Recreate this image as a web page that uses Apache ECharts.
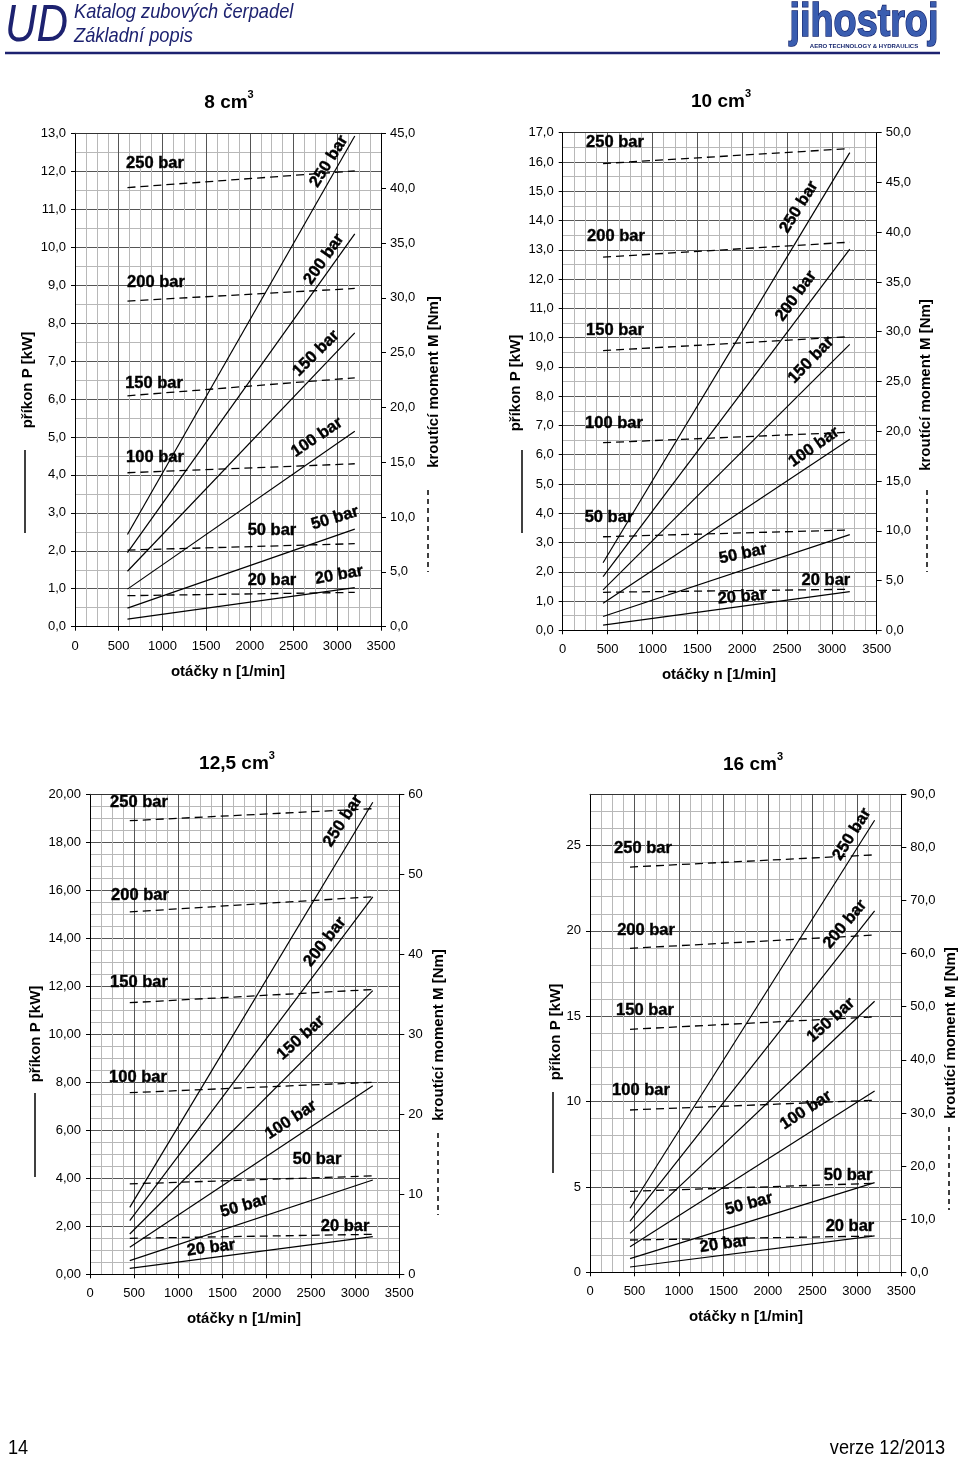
<!DOCTYPE html>
<html><head><meta charset="utf-8">
<script src="https://cdn.jsdelivr.net/npm/echarts@6/dist/echarts.min.js"></script>
<style>html,body{margin:0;padding:0;background:#fff}#c{width:960px;height:1457px}</style>
</head><body><div id="c"></div>
<script>
// ---------------- DATA ----------------
const pressures = ['20 bar', '50 bar', '100 bar', '150 bar', '200 bar', '250 bar'];
const xTicks = [0, 3500, 500];

// 8 cm3
const speed8 = [600, 3200];
const power8 = [[0.20, 1.03], [0.49, 2.57], [0.99, 5.15], [1.46, 7.74], [1.95, 10.35], [2.43, 12.93]];
const torque8 = [[2.83, 3.13], [6.99, 7.57], [14.04, 14.86], [21.06, 22.7], [29.7, 30.85], [40.05, 41.57]];
const labels8 = [
  ['250 bar', 915, 12.2, 0], ['200 bar', 926, 9.07, 0], ['150 bar', 904, 6.41, 0], ['100 bar', 915, 4.47, 0],
  ['50 bar', 2253, 2.54, 0], ['20 bar', 2253, 1.23, 0],
  ['250 bar', 2905, 12.26, 58], ['200 bar', 2848, 9.68, 55], ['150 bar', 2757, 7.2, 45], ['100 bar', 2768, 4.99, 34],
  ['50 bar', 2974, 2.86, 17], ['20 bar', 3020, 1.36, 10]
];

// 10 cm3
const speed10 = [450, 3200];
const power10 = [[0.18, 1.32], [0.47, 3.27], [0.92, 6.53], [1.38, 9.77], [1.83, 13.02], [2.31, 16.32]];
const torque10 = [[3.82, 4.12], [9.4, 10.08], [18.85, 19.9], [28.1, 29.5], [37.5, 39.0], [46.9, 48.4]];
const labels10 = [
  ['250 bar', 583, 16.65, 0], ['200 bar', 594, 13.44, 0], ['150 bar', 583, 10.23, 0], ['100 bar', 572, 7.08, 0],
  ['50 bar', 516, 3.87, 0], ['20 bar', 2934, 1.72, 0],
  ['250 bar', 2634, 14.46, 58], ['200 bar', 2601, 11.42, 54], ['150 bar', 2768, 9.23, 46], ['100 bar', 2801, 6.26, 35],
  ['50 bar', 2010, 2.61, 12], ['20 bar', 1998, 1.14, 5]
];

// 12,5 cm3
const speed125 = [450, 3200];
const power125 = [[0.25, 1.57], [0.57, 3.93], [1.13, 7.86], [1.68, 11.82], [2.24, 15.73], [2.79, 19.67]];
const torque125 = [[4.5, 5.0], [11.3, 12.3], [22.7, 24.0], [33.95, 35.6], [45.3, 47.2], [56.7, 58.2]];
const labels125 = [
  ['250 bar', 554, 19.68, 0], ['200 bar', 566, 15.8, 0], ['150 bar', 554, 12.18, 0], ['100 bar', 543, 8.22, 0],
  ['50 bar', 2569, 4.8, 0], ['20 bar', 2886, 2.01, 0],
  ['250 bar', 2863, 18.89, 57], ['200 bar', 2659, 13.85, 52], ['150 bar', 2388, 9.85, 42], ['100 bar', 2275, 6.43, 33],
  ['50 bar', 1743, 2.85, 16], ['20 bar', 1369, 1.10, 7]
];

// 16 cm3
const speed16 = [450, 3200];
const power16 = [[0.31, 2.13], [0.8, 5.25], [1.5, 10.62], [2.28, 15.88], [3.0, 21.17], [3.75, 26.48]];
const torque16 = [[6.08, 6.83], [15.25, 16.76], [30.56, 32.4], [45.75, 48.1], [61.0, 63.5], [76.3, 78.6]];
const labels16 = [
  ['250 bar', 596, 24.84, 0], ['200 bar', 630, 20.04, 0], ['150 bar', 618, 15.36, 0], ['100 bar', 573, 10.67, 0],
  ['50 bar', 2901, 5.7, 0], ['20 bar', 2923, 2.71, 0],
  ['250 bar', 2946, 25.66, 58], ['200 bar', 2867, 20.39, 50], ['150 bar', 2710, 14.77, 42], ['100 bar', 2428, 9.5, 33],
  ['50 bar', 1788, 4.0, 15], ['20 bar', 1507, 1.65, 8]
];

// axis scales: [max, major interval, minor interval, decimals]
const powerAxis8 = [13, 1, 0.5, 1],  torqueAxis8 = [45, 5, 1];
const powerAxis10 = [17, 1, 0.5, 1], torqueAxis10 = [50, 5, 1];
const powerAxis125 = [20, 2, 0.5, 2], torqueAxis125 = [60, 10, 0];
const powerAxis16 = [28, 5, 1, 0],   torqueAxis16 = [90, 10, 1];

const titles = ['8', '10', '12,5', '16'];
const xName = 'otáčky n [1/min]';
const pName = 'příkon P [kW]';
const mName = 'kroutící moment M [Nm]';

// ---------------- LAYOUT ----------------
const FONT = "'Liberation Sans', Arial, Helvetica, sans-serif";

const charts = [
  { speed: speed8, power: power8, torque: torque8, labels: labels8, pa: powerAxis8, ma: torqueAxis8,
    box: [75, 133.3, 306, 493.4], title: [229, 103], pN: [28, 380], pL: [25, 450, 533], mN: [434, 382], mL: [428, 490, 572], xN: [228, 672] },
  { speed: speed10, power: power10, torque: torque10, labels: labels10, pa: powerAxis10, ma: torqueAxis10,
    box: [562.7, 132.7, 314, 497.6], title: [721, 102], pN: [516, 383], pL: [522, 450, 533], mN: [926, 385], mL: [927, 490, 572], xN: [719, 675] },
  { speed: speed125, power: power125, torque: torque125, labels: labels125, pa: powerAxis125, ma: torqueAxis125,
    box: [90, 794.3, 309.3, 480], title: [237, 764], pN: [36, 1034], pL: [35, 1093, 1177], mN: [439, 1035], mL: [438, 1133, 1215], xN: [244, 1319] },
  { speed: speed16, power: power16, torque: torque16, labels: labels16, pa: powerAxis16, ma: torqueAxis16,
    box: [590, 794.3, 311.3, 478], title: [753, 765], pN: [556, 1032], pL: [553, 1092, 1173], mN: [951, 1033], mL: [949, 1127, 1210], xN: [746, 1317] }
];

function fmt(v, d) { return Number(v).toFixed(d).replace('.', ','); }

const MAJOR = '#555';
const MINOR = '#b8b8b8';

const option = { animation: false, backgroundColor: '#fff', grid: [], xAxis: [], yAxis: [], series: [], graphic: [] };

charts.forEach((c, i) => {
  option.grid.push({ left: c.box[0], top: c.box[1], width: c.box[2], height: c.box[3], containLabel: false });
  const xi = option.xAxis.length;
  option.xAxis.push({
    type: 'value', gridIndex: i, min: xTicks[0], max: xTicks[1], interval: xTicks[2], position: 'bottom',
    axisLine: { show: true, onZero: false, lineStyle: { color: '#000', width: 1 } },
    axisTick: { show: true, length: 4, lineStyle: { color: '#000' } },
    axisLabel: { margin: 13, fontSize: 13, color: '#000', fontFamily: FONT, formatter: v => String(v) },
    splitLine: { show: true, lineStyle: { color: MAJOR, width: 1 } },
    minorTick: { show: false, splitNumber: 4 },
    minorSplitLine: { show: true, lineStyle: { color: MINOR, width: 1 } }
  });
  option.xAxis.push({
    type: 'value', gridIndex: i, min: xTicks[0], max: xTicks[1], position: 'top',
    axisLine: { show: true, onZero: false, lineStyle: { color: '#333', width: 1 } },
    axisTick: { show: false }, axisLabel: { show: false }, splitLine: { show: false }
  });
  const yi = option.yAxis.length;
  // minor horizontal grid
  option.yAxis.push({
    type: 'value', gridIndex: i, min: 0, max: c.pa[0], interval: c.pa[2], position: 'left',
    axisLine: { show: false }, axisTick: { show: false }, axisLabel: { show: false },
    splitLine: { show: true, lineStyle: { color: MINOR, width: 1 } }
  });
  // power axis
  option.yAxis.push({
    type: 'value', gridIndex: i, min: 0, max: c.pa[0], interval: c.pa[1], position: 'left',
    axisLine: { show: true, onZero: false, lineStyle: { color: '#000', width: 1 } },
    axisTick: { show: true, length: 4, lineStyle: { color: '#000' } },
    axisLabel: { margin: 9, fontSize: 13, color: '#000', fontFamily: FONT,
      showMaxLabel: c.pa[0] % c.pa[1] === 0, formatter: v => fmt(v, c.pa[3]) },
    splitLine: { show: true, lineStyle: { color: MAJOR, width: 1 } }
  });
  // torque axis
  option.yAxis.push({
    type: 'value', gridIndex: i, min: 0, max: c.ma[0], interval: c.ma[1], position: 'right',
    axisLine: { show: true, onZero: false, lineStyle: { color: '#000', width: 1 } },
    axisTick: { show: true, length: 5, lineStyle: { color: '#000' } },
    axisLabel: { margin: 9, fontSize: 13, color: '#000', fontFamily: FONT, formatter: v => fmt(v, c.ma[2]) },
    splitLine: { show: false }
  });

  pressures.forEach((p, k) => {
    option.series.push({
      type: 'line', name: p + ' P', xAxisIndex: xi, yAxisIndex: yi + 1, symbol: 'none', silent: true, z: 3,
      lineStyle: { color: '#000', width: 1.2 },
      data: [[c.speed[0], c.power[k][0]], [c.speed[1], c.power[k][1]]]
    });
    option.series.push({
      type: 'line', name: p + ' M', xAxisIndex: xi, yAxisIndex: yi + 2, symbol: 'none', silent: true, z: 3,
      lineStyle: { color: '#000', width: 1.3, type: [8, 5] },
      data: [[c.speed[0], c.torque[k][0]], [c.speed[1], c.torque[k][1]]]
    });
  });

  option.series.push({
    type: 'scatter', xAxisIndex: xi, yAxisIndex: yi + 1, symbolSize: 1, silent: true, z: 5,
    itemStyle: { color: 'transparent', opacity: 1 },
    label: { show: true, position: 'inside', fontSize: 16.5, fontWeight: 'bold', color: '#000', opacity: 1,
      textBorderColor: '#000', textBorderWidth: 0.4, fontFamily: FONT },
    data: c.labels.map(l => ({ value: [l[1], l[2]], label: { formatter: l[0], rotate: l[3] } }))
  });

  // title
  option.graphic.push({
    type: 'text', x: c.title[0], y: c.title[1], silent: true,
    style: { text: '{m|' + titles[i] + ' cm}{s|3}', align: 'center', verticalAlign: 'middle',
      rich: { m: { fontSize: 19, fontWeight: 'bold', fontFamily: FONT, fill: '#000' },
              s: { fontSize: 11, fontWeight: 'bold', fontFamily: FONT, fill: '#000', padding: [0, 0, 16, 0] } } }
  });
  // axis names
  option.graphic.push({ type: 'text', x: c.pN[0], y: c.pN[1], rotation: Math.PI / 2, silent: true,
    style: { text: pName, fontSize: 15, fontWeight: 'bold', fontFamily: FONT, fill: '#000', align: 'center', verticalAlign: 'middle' } });
  option.graphic.push({ type: 'text', x: c.mN[0], y: c.mN[1], rotation: Math.PI / 2, silent: true,
    style: { text: mName, fontSize: 15, fontWeight: 'bold', fontFamily: FONT, fill: '#000', align: 'center', verticalAlign: 'middle' } });
  option.graphic.push({ type: 'text', x: c.xN[0], y: c.xN[1], silent: true,
    style: { text: xName, fontSize: 15, fontWeight: 'bold', fontFamily: FONT, fill: '#000', align: 'center', verticalAlign: 'middle' } });
  // legend lines
  option.graphic.push({ type: 'line', silent: true, shape: { x1: c.pL[0], y1: c.pL[1], x2: c.pL[0], y2: c.pL[2] },
    style: { stroke: '#000', lineWidth: 1.5 } });
  option.graphic.push({ type: 'line', silent: true, shape: { x1: c.mL[0], y1: c.mL[1], x2: c.mL[0], y2: c.mL[2] },
    style: { stroke: '#000', lineWidth: 1.5, lineDash: [5, 4] } });
});

// header & footer (condensed by horizontal scaling)
const NAVY = '#1d2270';
option.graphic.push(
  { type: 'text', x: 5, y: 27, scaleX: 0.84, silent: true, style: { text: 'UD', fontSize: 52, fontStyle: 'italic', fontFamily: FONT, fill: NAVY, align: 'left', verticalAlign: 'middle' } },
  { type: 'text', x: 74, y: 12, scaleX: 0.87, silent: true, style: { text: 'Katalog zubových čerpadel', fontSize: 21, fontStyle: 'italic', fontFamily: FONT, fill: NAVY, align: 'left', verticalAlign: 'middle' } },
  { type: 'text', x: 74, y: 36, scaleX: 0.87, silent: true, style: { text: 'Základní popis', fontSize: 21, fontStyle: 'italic', fontFamily: FONT, fill: NAVY, align: 'left', verticalAlign: 'middle' } },
  { type: 'line', silent: true, shape: { x1: 5, y1: 53, x2: 940, y2: 53 }, style: { stroke: NAVY, lineWidth: 2.5 } },
  { type: 'text', x: 864, y: 23, scaleX: 0.82, silent: true, style: { text: 'jihostroj', fontSize: 46, fontWeight: 'bold', fontFamily: FONT, fill: '#3a5db0', stroke: '#16266e', lineWidth: 1.5, align: 'center', verticalAlign: 'middle' } },
  { type: 'text', x: 864, y: 46.5, silent: true, style: { text: 'AERO TECHNOLOGY & HYDRAULICS', fontSize: 6, fontWeight: 'bold', fontFamily: FONT, fill: '#16266e', align: 'center', verticalAlign: 'middle' } },
  { type: 'text', x: 8, y: 1448, scaleX: 0.865, silent: true, style: { text: '14', fontSize: 21, fontFamily: FONT, fill: '#000', align: 'left', verticalAlign: 'middle' } },
  { type: 'text', x: 945, y: 1448, scaleX: 0.865, silent: true, style: { text: 'verze 12/2013', fontSize: 21, fontFamily: FONT, fill: '#000', align: 'right', verticalAlign: 'middle' } }
);

const chart = echarts.init(document.getElementById('c'), null, { renderer: 'canvas' });
chart.setOption(option);
</script>
</body></html>
